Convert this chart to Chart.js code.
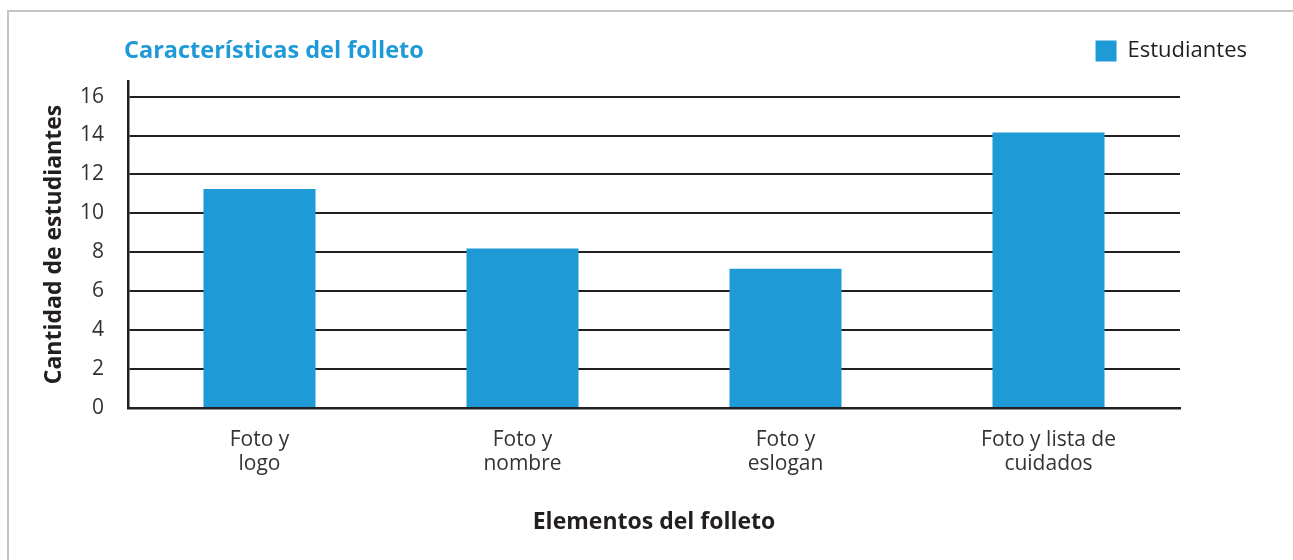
<!DOCTYPE html>
<html>
<head>
<meta charset="utf-8">
<script src="https://cdn.jsdelivr.net/npm/chart.js@4/dist/chart.umd.min.js"></script>
<style>
  html, body { margin: 0; padding: 0; background: #fff; }
  #wrap { position: relative; width: 1293px; height: 560px; overflow: hidden; }
  #frame { position: absolute; left: 7px; top: 10px; right: -5px; bottom: -5px;
           border-left: 2px solid #c4c4c4; border-top: 2px solid #c4c4c4; pointer-events: none; }
  canvas { position: absolute; left: 0; top: 0; }
</style>
</head>
<body>
<div id="wrap">
  <canvas id="chart" width="1293" height="560"></canvas>
  <div id="frame"></div>
</div>
<script>
// Data
const categories = [
  ['Foto y', 'logo'],
  ['Foto y', 'nombre'],
  ['Foto y', 'eslogan'],
  ['Foto y lista de', 'cuidados']
];
const estudiantes = [11.25, 8.2, 7.15, 14.15];
const yTicks = [0, 2, 4, 6, 8, 10, 12, 14, 16];

const chartTitle = 'Características del folleto';
const seriesLabel = 'Estudiantes';
const yAxisTitle = 'Cantidad de estudiantes';
const xAxisTitle = 'Elementos del folleto';

const FONT = "'Open Sans', 'Noto Sans', sans-serif";
const BLUE = '#1e9ad6';
const INK = '#231f20';

// Title drawn at the top left, on the same line as the legend
const titlePlugin = {
  id: 'leftTitle',
  afterDraw(chart) {
    const ctx = chart.ctx;
    ctx.save();
    ctx.font = 'bold 23.5px ' + FONT;
    ctx.fillStyle = BLUE;
    ctx.textAlign = 'left';
    ctx.textBaseline = 'middle';
    ctx.fillText(chartTitle, 124, 51);
    ctx.restore();
  }
};

// empty axis used only as spacing
const spacer = (position, size) => ({
  type: 'linear',
  position,
  display: true,
  grid: { display: false },
  border: { display: false },
  ticks: { display: false },
  afterFit(scale) {
    if (scale.isHorizontal()) scale.height = size; else scale.width = size;
  }
});

const ctx = document.getElementById('chart').getContext('2d');

new Chart(ctx, {
  type: 'bar',
  data: {
    labels: categories,
    datasets: [{
      label: seriesLabel,
      data: estudiantes,
      backgroundColor: BLUE,
      borderWidth: 0,
      categoryPercentage: 1,
      barPercentage: 0.426
    }]
  },
  options: {
    responsive: false,
    animation: false,
    layout: {
      padding: { top: 11, left: 41, right: 17, bottom: 20 }
    },
    plugins: {
      tooltip: { enabled: false },
      legend: {
        position: 'top',
        align: 'end',
        labels: {
          boxWidth: 21,
          boxHeight: 21,
          padding: 29,
          color: INK,
          font: { family: FONT, size: 22 }
        }
      }
    },
    scales: {
      x: {
        grid: { display: false },
        border: { display: true, color: INK, width: 2.5 },
        ticks: {
          color: '#333',
          padding: 12,
          maxRotation: 0,
          autoSkip: false,
          font: { family: FONT, size: 21, lineHeight: 1.15 }
        },
        title: {
          display: true,
          text: xAxisTitle,
          color: INK,
          padding: { top: 0, bottom: 4 },
          font: { family: FONT, size: 23, weight: 'bold' }
        },
        afterFit(scale) { scale.height = 132; }
      },
      y: {
        min: 0,
        max: 16.8,
        afterBuildTicks(scale) {
          scale.ticks = yTicks.map(v => ({ value: v }));
        },
        grid: { color: INK, lineWidth: 2, drawTicks: false },
        border: { display: true, color: INK, width: 2.5 },
        ticks: {
          color: '#333',
          padding: 24,
          font: { family: FONT, size: 21 }
        },
        title: {
          display: true,
          text: yAxisTitle,
          color: INK,
          padding: { top: 0, bottom: 0 },
          font: { family: FONT, size: 23, weight: 'bold' }
        },
        afterFit(scale) { scale.width = 87; }
      },
      // invisible spacers: gap under the legend and room right of the plot
      topSpace: Object.assign(spacer('top', 9), { axis: 'x' }),
      rightSpace: Object.assign(spacer('right', 96), { axis: 'y' })
    }
  },
  plugins: [titlePlugin]
});
</script>
</body>
</html>
